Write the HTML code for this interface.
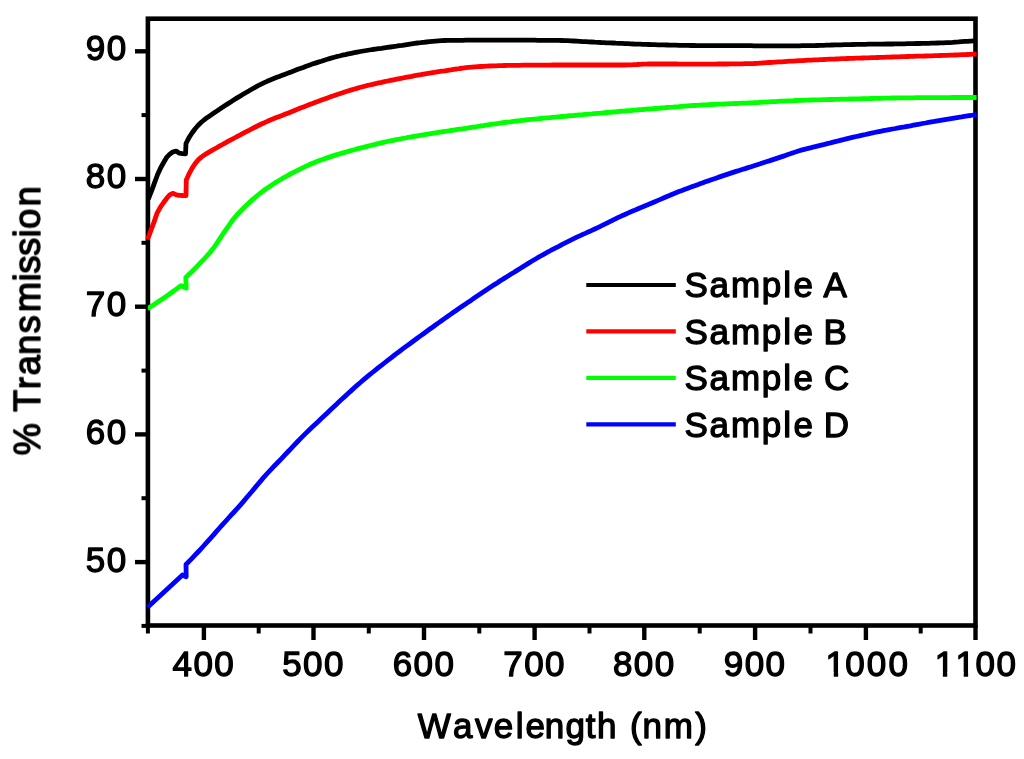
<!DOCTYPE html>
<html lang="en"><head><meta charset="utf-8"><title>Transmission vs Wavelength</title>
<style>
html,body{margin:0;padding:0;background:#fff;}
body{width:1024px;height:759px;overflow:hidden;}
svg{display:block;}
text{font-family:"Liberation Sans",sans-serif;font-size:35.0px;fill:#000;stroke:#000;stroke-width:1.3;stroke-linejoin:round;letter-spacing:1.4px;}
.t{letter-spacing:1.65px;}
.ax{stroke:#000;fill:none;}
.cv{fill:none;stroke-width:4.8;stroke-linejoin:round;stroke-linecap:butt;}
</style></head><body>
<svg width="1024" height="759" viewBox="0 0 1024 759">
<defs><filter id="soft" x="0" y="0" width="1024" height="759" filterUnits="userSpaceOnUse"><feGaussianBlur stdDeviation="0.65"/></filter></defs>
<rect width="1024" height="759" fill="#fff"/>
<g filter="url(#soft)">
<rect class="ax" x="147.9" y="18.7" width="827.6" height="606.8" stroke-width="4.6"/>
<polyline class="cv" stroke="#00f" points="147.6,607.3 182.5,575.0 186.2,576.8 186.0,564.5 189.0,561.4 192.0,558.3 195.0,555.2 198.0,552.0 201.0,548.8 204.0,545.5 207.0,542.2 210.0,538.8 213.1,535.4 216.1,531.9 219.1,528.5 222.1,525.1 225.1,521.8 228.1,518.5 231.1,515.2 234.1,512.0 237.1,508.7 240.1,505.3 243.1,501.9 246.1,498.3 249.1,494.8 252.1,491.2 255.1,487.6 258.1,484.0 261.2,480.4 264.2,476.8 267.2,473.5 270.2,470.3 273.2,467.1 276.2,464.0 279.2,461.0 282.2,457.9 285.2,454.7 288.2,451.5 291.2,448.4 294.2,445.2 297.2,442.0 300.2,438.9 303.2,435.9 306.2,432.9 309.2,430.0 312.3,427.1 315.3,424.3 318.3,421.4 321.3,418.6 324.3,415.8 327.3,412.9 330.3,410.1 333.3,407.2 336.3,404.4 339.3,401.6 342.3,398.8 345.3,396.1 348.3,393.3 351.3,390.6 354.3,387.8 357.3,385.1 360.4,382.5 363.4,379.9 366.4,377.4 369.4,374.9 372.4,372.5 375.4,370.1 378.4,367.7 381.4,365.4 384.4,363.0 387.4,360.7 390.4,358.3 393.4,356.0 396.4,353.7 399.4,351.5 402.4,349.2 405.4,346.9 408.5,344.7 411.5,342.5 414.5,340.3 417.5,338.0 420.5,335.9 423.5,333.7 426.5,331.5 429.5,329.3 432.5,327.2 435.5,325.0 438.5,322.9 441.5,320.8 444.5,318.6 447.5,316.5 450.5,314.4 453.5,312.3 456.5,310.2 459.6,308.1 462.6,306.0 465.6,304.0 468.6,301.9 471.6,299.9 474.6,297.8 477.6,295.8 480.6,293.8 483.6,291.8 486.6,289.8 489.6,287.8 492.6,285.8 495.6,283.9 498.6,281.9 501.6,280.0 504.6,278.1 507.7,276.2 510.7,274.3 513.7,272.5 516.7,270.6 519.7,268.7 522.7,266.9 525.7,265.0 528.7,263.1 531.7,261.3 534.7,259.5 537.7,257.7 540.7,256.0 543.7,254.3 546.7,252.7 549.7,251.0 552.7,249.4 555.7,247.8 558.8,246.3 561.8,244.7 564.8,243.2 567.8,241.7 570.8,240.2 573.8,238.7 576.8,237.2 579.8,235.8 582.8,234.4 585.8,233.1 588.8,231.7 591.8,230.4 594.8,229.0 597.8,227.6 600.8,226.2 603.8,224.7 606.9,223.2 609.9,221.7 612.9,220.2 615.9,218.7 618.9,217.2 621.9,215.8 624.9,214.5 627.9,213.1 630.9,211.8 633.9,210.6 636.9,209.3 639.9,208.0 642.9,206.8 645.9,205.5 648.9,204.3 651.9,203.0 654.9,201.7 658.0,200.4 661.0,199.1 664.0,197.8 667.0,196.5 670.0,195.3 673.0,194.0 676.0,192.8 679.0,191.6 682.0,190.5 685.0,189.3 688.0,188.2 691.0,187.1 694.0,186.0 697.0,184.9 700.0,183.8 703.0,182.7 706.1,181.6 709.1,180.6 712.1,179.5 715.1,178.5 718.1,177.4 721.1,176.4 724.1,175.4 727.1,174.4 730.1,173.4 733.1,172.4 736.1,171.4 739.1,170.5 742.1,169.5 745.1,168.6 748.1,167.6 751.1,166.7 754.1,165.7 757.2,164.7 760.2,163.8 763.2,162.8 766.2,161.8 769.2,160.9 772.2,159.9 775.2,158.9 778.2,157.9 781.2,156.9 784.2,155.9 787.2,154.8 790.2,153.8 793.2,152.7 796.2,151.8 799.2,150.8 802.2,149.9 805.3,149.1 808.3,148.3 811.3,147.6 814.3,146.8 817.3,146.1 820.3,145.4 823.3,144.7 826.3,143.9 829.3,143.2 832.3,142.4 835.3,141.6 838.3,140.9 841.3,140.1 844.3,139.4 847.3,138.6 850.3,137.9 853.4,137.2 856.4,136.5 859.4,135.8 862.4,135.1 865.4,134.5 868.4,133.8 871.4,133.2 874.4,132.5 877.4,131.9 880.4,131.3 883.4,130.7 886.4,130.2 889.4,129.6 892.4,129.0 895.4,128.5 898.4,127.9 901.4,127.4 904.5,126.9 907.5,126.3 910.5,125.8 913.5,125.2 916.5,124.6 919.5,124.1 922.5,123.5 925.5,123.0 928.5,122.4 931.5,121.9 934.5,121.4 937.5,120.8 940.5,120.3 943.5,119.8 946.5,119.3 949.5,118.8 952.6,118.3 955.6,117.8 958.6,117.3 961.6,116.9 964.6,116.4 967.6,115.9 970.6,115.5 973.6,115.0 976.6,114.6"/>
<polyline class="cv" stroke="#0f0" points="147.6,308.6 150.6,306.7 153.7,304.8 156.7,302.8 159.7,300.8 162.8,298.7 165.8,296.6 168.9,294.5 171.9,292.3 174.9,290.1 178.0,287.9 181.0,285.6 186.2,288.2 185.8,277.5 188.8,274.6 191.8,271.7 194.8,268.7 197.8,265.6 200.8,262.4 203.8,259.3 206.8,256.0 209.9,252.5 212.9,248.8 215.9,244.7 218.9,240.1 221.9,235.5 224.9,231.1 227.9,226.8 230.9,222.5 233.9,218.5 236.9,215.0 239.9,211.8 242.9,208.8 245.9,205.8 248.9,202.9 252.0,200.1 255.0,197.5 258.0,195.0 261.0,192.6 264.0,190.3 267.0,188.2 270.0,186.2 273.0,184.2 276.0,182.3 279.0,180.5 282.0,178.7 285.0,177.0 288.0,175.4 291.0,173.7 294.0,172.1 297.1,170.6 300.1,169.1 303.1,167.6 306.1,166.2 309.1,164.8 312.1,163.5 315.1,162.3 318.1,161.1 321.1,160.0 324.1,158.9 327.1,157.9 330.1,156.9 333.1,155.9 336.1,154.9 339.1,154.0 342.2,153.1 345.2,152.2 348.2,151.4 351.2,150.5 354.2,149.7 357.2,148.9 360.2,148.1 363.2,147.4 366.2,146.6 369.2,145.8 372.2,145.1 375.2,144.4 378.2,143.6 381.2,142.9 384.3,142.2 387.3,141.5 390.3,140.9 393.3,140.3 396.3,139.6 399.3,139.1 402.3,138.5 405.3,138.0 408.3,137.4 411.3,136.9 414.3,136.4 417.3,135.9 420.3,135.4 423.3,134.9 426.3,134.4 429.4,133.9 432.4,133.4 435.4,132.9 438.4,132.4 441.4,131.9 444.4,131.5 447.4,131.0 450.4,130.5 453.4,130.1 456.4,129.6 459.4,129.2 462.4,128.8 465.4,128.3 468.4,127.9 471.5,127.4 474.5,127.0 477.5,126.5 480.5,126.0 483.5,125.6 486.5,125.1 489.5,124.6 492.5,124.2 495.5,123.8 498.5,123.4 501.5,122.9 504.5,122.5 507.5,122.1 510.5,121.8 513.5,121.4 516.6,121.0 519.6,120.7 522.6,120.3 525.6,120.0 528.6,119.7 531.6,119.4 534.6,119.1 537.6,118.8 540.6,118.5 543.6,118.2 546.6,117.9 549.6,117.7 552.6,117.4 555.6,117.1 558.6,116.8 561.7,116.5 564.7,116.3 567.7,116.0 570.7,115.7 573.7,115.5 576.7,115.2 579.7,114.9 582.7,114.7 585.7,114.4 588.7,114.1 591.7,113.9 594.7,113.6 597.7,113.3 600.7,113.1 603.8,112.8 606.8,112.5 609.8,112.3 612.8,112.0 615.8,111.8 618.8,111.5 621.8,111.2 624.8,111.0 627.8,110.7 630.8,110.5 633.8,110.2 636.8,110.0 639.8,109.7 642.8,109.5 645.8,109.2 648.9,109.0 651.9,108.8 654.9,108.5 657.9,108.3 660.9,108.0 663.9,107.8 666.9,107.5 669.9,107.3 672.9,107.1 675.9,106.8 678.9,106.6 681.9,106.3 684.9,106.1 687.9,105.9 690.9,105.7 694.0,105.5 697.0,105.3 700.0,105.1 703.0,104.9 706.0,104.8 709.0,104.6 712.0,104.5 715.0,104.4 718.0,104.2 721.0,104.1 724.0,104.0 727.0,103.8 730.0,103.7 733.0,103.6 736.1,103.5 739.1,103.4 742.1,103.2 745.1,103.1 748.1,103.0 751.1,102.8 754.1,102.7 757.1,102.6 760.1,102.4 763.1,102.2 766.1,102.1 769.1,101.9 772.1,101.7 775.1,101.6 778.1,101.4 781.2,101.2 784.2,101.1 787.2,100.9 790.2,100.8 793.2,100.7 796.2,100.5 799.2,100.4 802.2,100.3 805.2,100.2 808.2,100.1 811.2,100.0 814.2,99.9 817.2,99.8 820.2,99.8 823.3,99.7 826.3,99.6 829.3,99.5 832.3,99.5 835.3,99.4 838.3,99.3 841.3,99.2 844.3,99.2 847.3,99.1 850.3,99.0 853.3,99.0 856.3,98.9 859.3,98.8 862.3,98.7 865.3,98.7 868.4,98.6 871.4,98.5 874.4,98.4 877.4,98.3 880.4,98.3 883.4,98.2 886.4,98.1 889.4,98.1 892.4,98.0 895.4,98.0 898.4,97.9 901.4,97.9 904.4,97.8 907.4,97.8 910.4,97.8 913.5,97.8 916.5,97.7 919.5,97.7 922.5,97.7 925.5,97.7 928.5,97.7 931.5,97.6 934.5,97.6 937.5,97.6 940.5,97.6 943.5,97.6 946.5,97.6 949.5,97.6 952.5,97.5 955.6,97.5 958.6,97.5 961.6,97.5 964.6,97.5 967.6,97.5 970.6,97.5 973.6,97.5 976.6,97.5"/>
<polyline class="cv" stroke="#f00" points="147.6,239.5 150.8,230.6 154.0,222.1 157.2,212.8 160.4,207.1 163.6,202.5 166.8,198.2 170.0,194.7 173.2,193.3 176.4,194.8 179.6,195.3 182.8,195.5 186.0,195.6 186.3,180.0 189.3,173.3 192.3,167.8 195.3,163.4 198.3,159.8 201.3,157.1 204.3,155.0 207.3,153.1 210.3,151.4 213.3,149.7 216.3,148.0 219.4,146.2 222.4,144.5 225.4,142.8 228.4,141.2 231.4,139.6 234.4,138.0 237.4,136.4 240.4,134.8 243.4,133.2 246.4,131.6 249.4,130.1 252.4,128.5 255.4,127.0 258.4,125.5 261.4,124.0 264.4,122.7 267.4,121.3 270.4,120.0 273.4,118.8 276.4,117.6 279.5,116.4 282.5,115.3 285.5,114.1 288.5,112.9 291.5,111.7 294.5,110.5 297.5,109.3 300.5,108.1 303.5,106.9 306.5,105.8 309.5,104.6 312.5,103.4 315.5,102.3 318.5,101.2 321.5,100.1 324.5,99.0 327.5,97.9 330.5,96.8 333.5,95.8 336.5,94.7 339.6,93.7 342.6,92.8 345.6,91.8 348.6,90.8 351.6,89.9 354.6,89.0 357.6,88.1 360.6,87.3 363.6,86.5 366.6,85.7 369.6,85.0 372.6,84.3 375.6,83.6 378.6,82.9 381.6,82.3 384.6,81.6 387.6,81.0 390.6,80.4 393.6,79.8 396.6,79.2 399.7,78.6 402.7,78.0 405.7,77.4 408.7,76.8 411.7,76.3 414.7,75.7 417.7,75.2 420.7,74.7 423.7,74.1 426.7,73.6 429.7,73.1 432.7,72.6 435.7,72.2 438.7,71.7 441.7,71.2 444.7,70.8 447.7,70.3 450.7,69.9 453.7,69.4 456.7,69.0 459.7,68.5 462.8,68.1 465.8,67.7 468.8,67.4 471.8,67.1 474.8,66.9 477.8,66.7 480.8,66.5 483.8,66.3 486.8,66.1 489.8,66.0 492.8,65.9 495.8,65.8 498.8,65.7 501.8,65.6 504.8,65.5 507.8,65.4 510.8,65.4 513.8,65.3 516.8,65.3 519.8,65.3 522.9,65.2 525.9,65.2 528.9,65.2 531.9,65.2 534.9,65.1 537.9,65.1 540.9,65.1 543.9,65.1 546.9,65.1 549.9,65.1 552.9,65.0 555.9,65.0 558.9,65.0 561.9,65.0 564.9,65.0 567.9,65.0 570.9,65.0 573.9,65.0 576.9,65.0 579.9,65.0 583.0,65.0 586.0,65.0 589.0,65.0 592.0,65.0 595.0,65.0 598.0,65.0 601.0,65.0 604.0,65.0 607.0,65.0 610.0,65.0 613.0,65.0 616.0,65.0 619.0,65.0 622.0,65.0 625.0,65.0 628.0,64.9 631.0,64.8 634.0,64.6 637.0,64.5 640.0,64.3 643.1,64.2 646.1,64.1 649.1,64.0 652.1,64.0 655.1,64.0 658.1,64.0 661.1,64.0 664.1,64.0 667.1,64.0 670.1,64.0 673.1,64.0 676.1,64.0 679.1,64.1 682.1,64.1 685.1,64.1 688.1,64.1 691.1,64.1 694.1,64.1 697.1,64.1 700.1,64.1 703.2,64.1 706.2,64.1 709.2,64.1 712.2,64.1 715.2,64.1 718.2,64.0 721.2,64.0 724.2,64.0 727.2,64.0 730.2,63.9 733.2,63.9 736.2,63.9 739.2,63.8 742.2,63.8 745.2,63.7 748.2,63.7 751.2,63.6 754.2,63.5 757.2,63.3 760.2,63.1 763.2,62.9 766.3,62.7 769.3,62.5 772.3,62.3 775.3,62.1 778.3,61.9 781.3,61.8 784.3,61.6 787.3,61.4 790.3,61.2 793.3,61.1 796.3,60.9 799.3,60.7 802.3,60.6 805.3,60.4 808.3,60.2 811.3,60.1 814.3,59.9 817.3,59.8 820.3,59.6 823.3,59.5 826.4,59.3 829.4,59.2 832.4,59.1 835.4,59.0 838.4,58.8 841.4,58.7 844.4,58.6 847.4,58.5 850.4,58.4 853.4,58.3 856.4,58.2 859.4,58.1 862.4,58.0 865.4,57.9 868.4,57.8 871.4,57.7 874.4,57.6 877.4,57.5 880.4,57.4 883.4,57.3 886.5,57.2 889.5,57.1 892.5,57.0 895.5,56.9 898.5,56.8 901.5,56.7 904.5,56.6 907.5,56.5 910.5,56.4 913.5,56.3 916.5,56.2 919.5,56.1 922.5,56.1 925.5,56.0 928.5,55.9 931.5,55.8 934.5,55.7 937.5,55.6 940.5,55.5 943.5,55.4 946.6,55.3 949.6,55.2 952.6,55.1 955.6,55.0 958.6,54.9 961.6,54.7 964.6,54.6 967.6,54.5 970.6,54.4 973.6,54.2 976.6,54.1"/>
<polyline class="cv" stroke="#000" points="148.3,199.0 151.4,191.3 154.5,182.9 157.6,174.5 160.7,167.7 163.8,162.3 166.9,157.1 170.0,153.9 173.1,151.8 176.2,151.1 179.3,153.2 182.4,153.7 185.5,153.8 186.0,143.5 189.0,137.6 192.0,133.0 195.0,129.0 198.0,125.5 201.0,122.5 204.0,120.0 207.0,117.7 210.0,115.7 213.1,113.6 216.1,111.6 219.1,109.5 222.1,107.5 225.1,105.5 228.1,103.6 231.1,101.7 234.1,99.8 237.1,97.9 240.1,96.1 243.1,94.3 246.1,92.5 249.1,90.8 252.1,89.0 255.1,87.3 258.1,85.7 261.2,84.2 264.2,82.7 267.2,81.3 270.2,80.0 273.2,78.8 276.2,77.6 279.2,76.5 282.2,75.3 285.2,74.2 288.2,73.1 291.2,71.9 294.2,70.8 297.2,69.6 300.2,68.5 303.2,67.4 306.2,66.2 309.2,65.2 312.3,64.1 315.3,63.1 318.3,62.1 321.3,61.2 324.3,60.2 327.3,59.3 330.3,58.4 333.3,57.5 336.3,56.7 339.3,56.0 342.3,55.2 345.3,54.6 348.3,53.9 351.3,53.3 354.3,52.7 357.3,52.1 360.4,51.5 363.4,51.0 366.4,50.5 369.4,50.0 372.4,49.5 375.4,49.1 378.4,48.7 381.4,48.3 384.4,47.8 387.4,47.4 390.4,47.0 393.4,46.6 396.4,46.2 399.4,45.7 402.4,45.3 405.4,44.8 408.5,44.3 411.5,43.8 414.5,43.4 417.5,43.0 420.5,42.7 423.5,42.3 426.5,42.0 429.5,41.7 432.5,41.4 435.5,41.1 438.5,40.9 441.5,40.7 444.5,40.5 447.5,40.4 450.5,40.3 453.5,40.3 456.5,40.3 459.6,40.3 462.6,40.3 465.6,40.2 468.6,40.2 471.6,40.2 474.6,40.2 477.6,40.2 480.6,40.2 483.6,40.2 486.6,40.2 489.6,40.2 492.6,40.2 495.6,40.2 498.6,40.2 501.6,40.2 504.6,40.2 507.7,40.2 510.7,40.2 513.7,40.2 516.7,40.2 519.7,40.2 522.7,40.2 525.7,40.2 528.7,40.2 531.7,40.2 534.7,40.2 537.7,40.3 540.7,40.3 543.7,40.3 546.7,40.3 549.7,40.3 552.7,40.3 555.7,40.3 558.8,40.4 561.8,40.5 564.8,40.6 567.8,40.7 570.8,40.9 573.8,41.0 576.8,41.2 579.8,41.4 582.8,41.6 585.8,41.7 588.8,41.9 591.8,42.0 594.8,42.2 597.8,42.3 600.8,42.5 603.8,42.6 606.9,42.8 609.9,42.9 612.9,43.0 615.9,43.2 618.9,43.3 621.9,43.4 624.9,43.6 627.9,43.7 630.9,43.8 633.9,44.0 636.9,44.1 639.9,44.2 642.9,44.3 645.9,44.4 648.9,44.5 651.9,44.6 654.9,44.7 658.0,44.8 661.0,44.8 664.0,44.9 667.0,45.0 670.0,45.1 673.0,45.1 676.0,45.2 679.0,45.3 682.0,45.3 685.0,45.4 688.0,45.4 691.0,45.5 694.0,45.5 697.0,45.6 700.0,45.6 703.0,45.6 706.1,45.6 709.1,45.6 712.1,45.6 715.1,45.7 718.1,45.7 721.1,45.7 724.1,45.7 727.1,45.7 730.1,45.7 733.1,45.7 736.1,45.7 739.1,45.7 742.1,45.7 745.1,45.7 748.1,45.7 751.1,45.7 754.1,45.8 757.2,45.8 760.2,45.8 763.2,45.8 766.2,45.8 769.2,45.8 772.2,45.8 775.2,45.8 778.2,45.8 781.2,45.8 784.2,45.8 787.2,45.8 790.2,45.8 793.2,45.8 796.2,45.8 799.2,45.8 802.2,45.7 805.3,45.7 808.3,45.7 811.3,45.6 814.3,45.6 817.3,45.5 820.3,45.4 823.3,45.3 826.3,45.2 829.3,45.1 832.3,45.0 835.3,44.9 838.3,44.8 841.3,44.8 844.3,44.7 847.3,44.6 850.3,44.6 853.4,44.5 856.4,44.4 859.4,44.4 862.4,44.3 865.4,44.3 868.4,44.2 871.4,44.2 874.4,44.2 877.4,44.1 880.4,44.1 883.4,44.1 886.4,44.0 889.4,44.0 892.4,44.0 895.4,43.9 898.4,43.9 901.4,43.8 904.5,43.8 907.5,43.7 910.5,43.7 913.5,43.6 916.5,43.5 919.5,43.5 922.5,43.4 925.5,43.4 928.5,43.3 931.5,43.2 934.5,43.1 937.5,43.0 940.5,42.9 943.5,42.8 946.5,42.7 949.5,42.6 952.6,42.4 955.6,42.1 958.6,41.9 961.6,41.6 964.6,41.4 967.6,41.3 970.6,41.1 973.6,40.9 976.6,40.8"/>
<line class="ax" x1="135" x2="147.9" y1="562.1" y2="562.1" stroke-width="4.4"/>
<line class="ax" x1="135" x2="147.9" y1="434.4" y2="434.4" stroke-width="4.4"/>
<line class="ax" x1="135" x2="147.9" y1="306.7" y2="306.7" stroke-width="4.4"/>
<line class="ax" x1="135" x2="147.9" y1="179.0" y2="179.0" stroke-width="4.4"/>
<line class="ax" x1="135" x2="147.9" y1="51.3" y2="51.3" stroke-width="4.4"/>
<line class="ax" x1="141.5" x2="147.9" y1="625.9" y2="625.9" stroke-width="4"/>
<line class="ax" x1="141.5" x2="147.9" y1="498.2" y2="498.2" stroke-width="4"/>
<line class="ax" x1="141.5" x2="147.9" y1="370.6" y2="370.6" stroke-width="4"/>
<line class="ax" x1="141.5" x2="147.9" y1="242.8" y2="242.8" stroke-width="4"/>
<line class="ax" x1="141.5" x2="147.9" y1="115.1" y2="115.1" stroke-width="4"/>
<line class="ax" x1="203.9" x2="203.9" y1="625.5" y2="640" stroke-width="4.4"/>
<line class="ax" x1="313.5" x2="313.5" y1="625.5" y2="640" stroke-width="4.4"/>
<line class="ax" x1="424.0" x2="424.0" y1="625.5" y2="640" stroke-width="4.4"/>
<line class="ax" x1="534.6" x2="534.6" y1="625.5" y2="640" stroke-width="4.4"/>
<line class="ax" x1="644.3" x2="644.3" y1="625.5" y2="640" stroke-width="4.4"/>
<line class="ax" x1="755.1" x2="755.1" y1="625.5" y2="640" stroke-width="4.4"/>
<line class="ax" x1="865.9" x2="865.9" y1="625.5" y2="640" stroke-width="4.4"/>
<line class="ax" x1="975.5" x2="975.5" y1="625.5" y2="640" stroke-width="4.4"/>
<line class="ax" x1="147.9" x2="147.9" y1="625.5" y2="633.5" stroke-width="4"/>
<line class="ax" x1="258.7" x2="258.7" y1="625.5" y2="633.5" stroke-width="4"/>
<line class="ax" x1="368.8" x2="368.8" y1="625.5" y2="633.5" stroke-width="4"/>
<line class="ax" x1="479.3" x2="479.3" y1="625.5" y2="633.5" stroke-width="4"/>
<line class="ax" x1="589.5" x2="589.5" y1="625.5" y2="633.5" stroke-width="4"/>
<line class="ax" x1="699.7" x2="699.7" y1="625.5" y2="633.5" stroke-width="4"/>
<line class="ax" x1="810.5" x2="810.5" y1="625.5" y2="633.5" stroke-width="4"/>
<line class="ax" x1="920.7" x2="920.7" y1="625.5" y2="633.5" stroke-width="4"/>
<text x="127.5" y="572.4" text-anchor="end">50</text>
<text x="127.5" y="444.1" text-anchor="end">60</text>
<text x="127.5" y="316.1" text-anchor="end">70</text>
<text x="127.5" y="188.2" text-anchor="end">80</text>
<text x="127.5" y="60.0" text-anchor="end">90</text>
<text x="203.9" y="675.6" text-anchor="middle">400</text>
<text x="313.5" y="675.6" text-anchor="middle">500</text>
<text x="424.0" y="675.6" text-anchor="middle">600</text>
<text x="534.6" y="675.6" text-anchor="middle">700</text>
<text x="644.3" y="675.6" text-anchor="middle">800</text>
<text x="755.1" y="675.6" text-anchor="middle">900</text>
<text x="825.6" y="675.6" dx="0 -1.2 0.7 0.7" style="font-kerning:none">1000</text>
<rect x="826.80" y="672.0" width="6.95" height="5.2" fill="#fff"/>
<rect x="838.15" y="672.0" width="6.65" height="5.2" fill="#fff"/>
<text x="934.7" y="675.6" dx="0 0 -0.9 0" style="font-kerning:none">1100</text>
<rect x="935.90" y="672.0" width="6.95" height="5.2" fill="#fff"/>
<rect x="947.25" y="672.0" width="6.65" height="5.2" fill="#fff"/>
<rect x="956.77" y="672.0" width="6.95" height="5.2" fill="#fff"/>
<rect x="968.12" y="672.0" width="6.65" height="5.2" fill="#fff"/>
<text class="t" x="562.8" y="738.2" dx="0.4 1.9 0.8 -0.3 0.7 0.4 -2.0 -0.4 -0.8 0 0 0.4 -0.7 0 0.75" text-anchor="middle">Wavelength (nm)</text>
<text class="t" style="font-size:36.3px;letter-spacing:1.0px" transform="translate(39.9,320.4) rotate(-90)" dx="0 0 0 0.9 0.5 -0.5 0.2 2.2 -0.5 -1.4 -1.4 -0.8 -0.4 1.2" text-anchor="middle">% Transmission</text>
<line x1="586.3" x2="675.8" y1="285.0" y2="285.0" stroke="#000" stroke-width="4.2"/>
<text class="t" x="684.5" y="297.4" dx="0 0 0.4 0 0.4 0.6 0 -0.4">Sample A</text>
<line x1="586.3" x2="675.8" y1="331.4" y2="331.4" stroke="#f00" stroke-width="4.2"/>
<text class="t" x="684.5" y="343.8" dx="0 0 0.4 0 0.4 0.6 0 -2.4">Sample B</text>
<line x1="586.3" x2="675.8" y1="377.9" y2="377.9" stroke="#0f0" stroke-width="4.2"/>
<text class="t" x="684.5" y="390.3" dx="0 0 0.4 0 0.4 0.6 0 -1.9">Sample C</text>
<line x1="586.3" x2="675.8" y1="424.4" y2="424.4" stroke="#00f" stroke-width="4.2"/>
<text class="t" x="684.5" y="436.8" dx="0 0 0.4 0 0.4 0.6 0 -2.2">Sample D</text>
</g>
</svg></body></html>
